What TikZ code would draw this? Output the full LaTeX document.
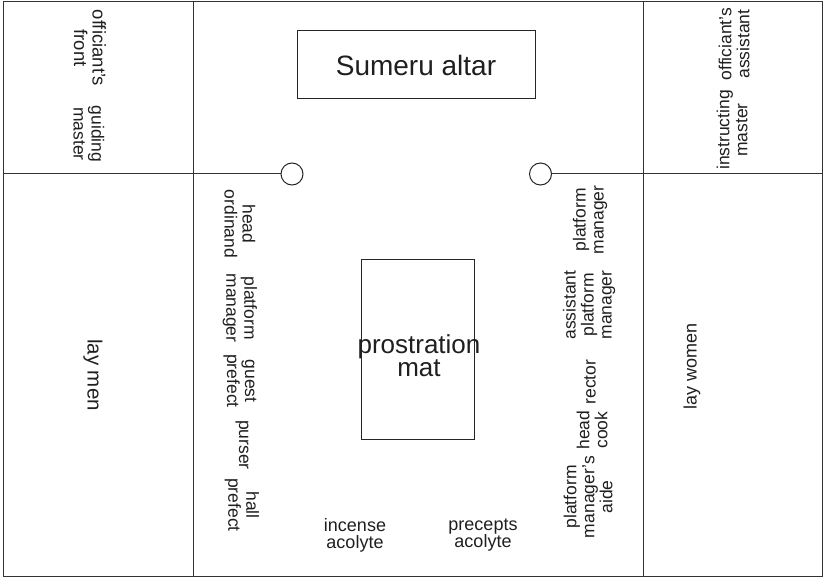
\documentclass[tikz,border=0pt]{standalone}
\usepackage{fontspec}
\setmainfont{Liberation Sans}
\begin{document}
\begin{tikzpicture}[x=1pt,y=-1pt,
  line width=1pt,
  wall/.style={draw=black!80},
  lbl/.style={font=\fontsize{17.5}{18}\selectfont, align=center, text=black!88, inner sep=0pt},
  down/.style={lbl, rotate=-90},
  up/.style={lbl, rotate=90},
  seat/.style={circle, draw=black!85, fill=white, minimum size=22pt, inner sep=0pt},
  box/.style={draw=black!85, inner sep=0pt}
]
\useasboundingbox (0,0) rectangle (824,577);

% hall outline and dividing walls
\coordinate (NW) at (3,2);
\coordinate (SE) at (822,576);
\coordinate (L1top) at (193,2);
\coordinate (L1bot) at (193,576);
\coordinate (R1top) at (643,2);
\coordinate (R1bot) at (643,576);
\coordinate (Wmid) at (3,174);
\coordinate (Emid) at (822,174);
\draw[wall] (NW) rectangle (SE);
\draw[wall] (L1top) -- (L1bot);
\draw[wall] (R1top) -- (R1bot);

% the two seats on the cross line
\node[seat] (seatL) at (292,174) {};
\node[seat] (seatR) at (540.5,174) {};
\draw[wall] (Wmid) -- (seatL.west);
\draw[wall] (seatR.east) -- (Emid);

% altar and mat
\node[box, minimum width=238pt, minimum height=68pt,
      font=\fontsize{28}{30}\selectfont, text=black!88] (altar) at (416,65) {Sumeru altar};
\node[box, minimum width=113pt, minimum height=179pt] (mat) at (417.5,349.5) {};
\node[lbl, font=\fontsize{26}{20.5}\selectfont] (matlabel) at (419,356) {prostration\\mat};

% upper side rooms
\node[down, font=\fontsize{18.5}{18.5}\selectfont] (front) at (90,48) {officiant's\\front};
\node[down] (guiding) at (89,134) {guiding\\master};
\node[up] (assistant) at (734,44) {officiant's\\assistant};
\node[up] (instructing) at (732,130) {instructing\\master};

% lay areas
\node[down, font=\fontsize{20.5}{21}\selectfont] (laymen) at (93,375) {lay men};
\node[up, font=\fontsize{18}{18}\selectfont] (laywomen) at (692,366) {lay women};

% west row of officers
\node[down] (ordinand) at (240,224) {head\\ordinand};
\node[down] (pmW) at (240,308) {platform\\manager};
\node[down] (guest) at (240,381) {guest\\prefect};
\node[down] (purser) at (242,445) {purser};
\node[down] (hall) at (242,505) {hall\\prefect};

% east row of officers
\node[up] (pmE) at (590,220) {platform\\manager};
\node[up] (apm) at (589,305) {assistant\\platform\\manager};
\node[up] (rector) at (590,382) {rector};
\node[up] (cook) at (592,430) {head\\cook};
\node[up] (aide) at (588,497) {platform\\manager's\\aide};

% acolytes at the foot of the mat
\node[lbl, font=\fontsize{18}{17}\selectfont] (incense) at (355,535) {incense\\acolyte};
\node[lbl, font=\fontsize{18}{17}\selectfont] (precepts) at (483,535) {precepts\\acolyte};
\end{tikzpicture}
\end{document}
